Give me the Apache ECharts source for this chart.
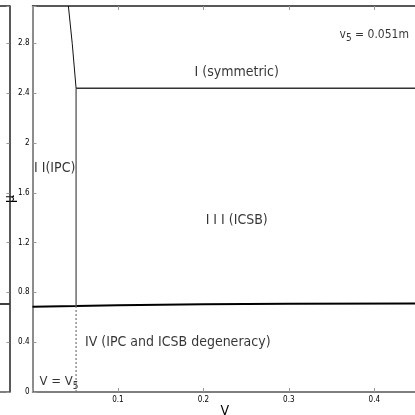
<!DOCTYPE html>
<html>
<head>
<meta charset="utf-8">
<script src="https://cdn.jsdelivr.net/npm/echarts@6/dist/echarts.min.js"></script>
<style>
  html, body { margin: 0; padding: 0; background: #fff; }
  #main { width: 415px; height: 415px; }
</style>
</head>
<body>
<div id="main"></div>
<script>
// phase boundaries
var v5 = 0.051;
var lowerV = [0, 0.051, 0.1, 0.2, 0.3, 0.45];
var lowerMu = [0.685, 0.69, 0.697, 0.705, 0.708, 0.71];
var upperMu = 2.44;
var curveV = [0.051, 0.0465, 0.042];
var curveMu = [2.44, 2.8, 3.1];
var leftPanelMu = 0.707;
var yTicks = [0, 0.4, 0.8, 1.2, 1.6, 2, 2.4, 2.8];
var xTicks = [0.1, 0.2, 0.3, 0.4];

var font = '"Liberation Sans Narrow", "DejaVu Sans Condensed", "Liberation Sans", sans-serif';

function pairs(xs, ys) {
    return xs.map(function (x, i) { return [x, ys[i]]; });
}

var myChart = echarts.init(document.getElementById('main'));
var option = {
    animation: false,
    textStyle: { fontFamily: font },
    grid: [
        // main plot, right side runs off the picture
        { left: 32.5, right: -2, top: 6, bottom: 23, show: false, containLabel: false, outerBoundsMode: 'none' },
        // edge of the neighbouring panel on the left
        { left: -100, width: 109.5, top: 6, bottom: 23, show: false, containLabel: false, outerBoundsMode: 'none' }
    ],
    xAxis: [
        {
            gridIndex: 0, type: 'value', min: 0, max: 0.45, interval: 0.1,
            name: 'V', nameLocation: 'middle', nameGap: 12, nameMoveOverlap: false,
            nameTextStyle: { fontSize: 14, color: '#000', fontFamily: font },
            axisLine: { show: true, lineStyle: { color: '#555', width: 1.5 } },
            axisTick: { inside: true, length: 4, lineStyle: { color: '#999' } },
            axisLabel: {
                fontSize: 8, color: '#000', margin: 4, fontFamily: font,
                formatter: function (v) {
                    return xTicks.some(function (t) { return Math.abs(t - v) < 1e-6; }) ? String(v) : '';
                }
            },
            splitLine: { show: false }
        },
        {
            gridIndex: 0, type: 'value', min: 0, max: 0.45, interval: 0.1, position: 'top',
            axisLine: { show: true, lineStyle: { color: '#222', width: 1.5 } },
            axisTick: { inside: true, length: 4, lineStyle: { color: '#999' } },
            axisLabel: { show: false },
            splitLine: { show: false }
        },
        {
            gridIndex: 1, type: 'value', min: 0, max: 1, position: 'top',
            axisLine: { show: true, onZero: false, lineStyle: { color: '#222', width: 1.5 } },
            axisTick: { show: false }, axisLabel: { show: false }, splitLine: { show: false }
        },
        {
            gridIndex: 1, type: 'value', min: 0, max: 1, position: 'bottom',
            axisLine: { show: true, onZero: false, lineStyle: { color: '#555', width: 1.5 } },
            axisTick: { show: false }, axisLabel: { show: false }, splitLine: { show: false }
        }
    ],
    yAxis: [
        {
            gridIndex: 0, type: 'value', min: 0, max: 3.1, interval: 0.4,
            name: 'μ', nameLocation: 'middle', nameGap: 15, nameRotate: 90, nameMoveOverlap: false,
            nameTextStyle: { fontSize: 14, color: '#000', fontFamily: font },
            axisLine: { show: true, lineStyle: { color: '#666', width: 1.5 } },
            axisTick: { inside: true, length: 4, lineStyle: { color: '#999' } },
            axisLabel: {
                fontSize: 8, color: '#000', margin: 3, fontFamily: font,
                formatter: function (v) {
                    return yTicks.some(function (t) { return Math.abs(t - v) < 1e-6; }) ? String(v) : '';
                }
            },
            splitLine: { show: false }
        },
        {
            gridIndex: 1, type: 'value', min: 0, max: 3.1, interval: 0.4, position: 'right',
            axisLine: { show: true, onZero: false, lineStyle: { color: '#222', width: 1.5 } },
            axisTick: { inside: true, length: 3, lineStyle: { color: '#999' } },
            axisLabel: { show: false },
            splitLine: { show: false }
        }
    ],
    series: [
        {
            type: 'line', xAxisIndex: 3, yAxisIndex: 1, symbol: 'none',
            lineStyle: { color: '#000', width: 1.5 },
            data: [[0, leftPanelMu], [1, leftPanelMu]]
        },
        {
            type: 'line', xAxisIndex: 0, yAxisIndex: 0, symbol: 'none',
            lineStyle: { color: '#000', width: 2 },
            data: pairs(lowerV, lowerMu)
        },
        {
            type: 'line', xAxisIndex: 0, yAxisIndex: 0, symbol: 'none',
            lineStyle: { color: '#777', width: 1.2, type: [2, 2] },
            data: [[v5, 0], [v5, lowerMu[1]]]
        },
        {
            type: 'line', xAxisIndex: 0, yAxisIndex: 0, symbol: 'none',
            lineStyle: { color: '#555', width: 1.3 },
            data: [[v5, lowerMu[1]], [v5, upperMu]]
        },
        {
            type: 'line', xAxisIndex: 0, yAxisIndex: 0, symbol: 'none',
            lineStyle: { color: '#333', width: 1.5 },
            data: [[v5, upperMu], [0.45, upperMu]]
        },
        {
            type: 'line', xAxisIndex: 0, yAxisIndex: 0, symbol: 'none',
            lineStyle: { color: '#111', width: 1 },
            data: pairs(curveV, curveMu)
        },
        {
            // region labels
            type: 'scatter', xAxisIndex: 0, yAxisIndex: 0, symbolSize: 0, silent: true,
            label: {
                show: true, position: 'inside', color: '#000', fontSize: 14, fontFamily: font,
                formatter: function (p) { return p.data.text; },
                rich: {
                    s: { fontSize: 10, color: '#000', verticalAlign: 'bottom', padding: [8, 0, 0, 0], fontFamily: font },
                    n: { fontSize: 14, color: '#000', fontFamily: font }
                }
            },
            data: [
                { value: [0.239, 2.57], text: 'I (symmetric)' },
                { value: [0.40, 2.87], text: '{n|v}{s|5}{n| = 0.051m}', label: { fontSize: 12, rich: { n: { fontSize: 12 } } } },
                { value: [0.026, 1.80], text: 'I I(IPC)' },
                { value: [0.239, 1.38], text: 'I I I (ICSB)' },
                { value: [0.170, 0.40], text: 'IV (IPC and ICSB degeneracy)' },
                { value: [0.031, 0.08], text: '{n|V = V}{s|5}', label: { fontSize: 13, rich: { n: { fontSize: 13 } } } }
            ]
        }
    ]
};
if (option && typeof option === "object") {
    myChart.setOption(option);
}
</script>
</body>
</html>
